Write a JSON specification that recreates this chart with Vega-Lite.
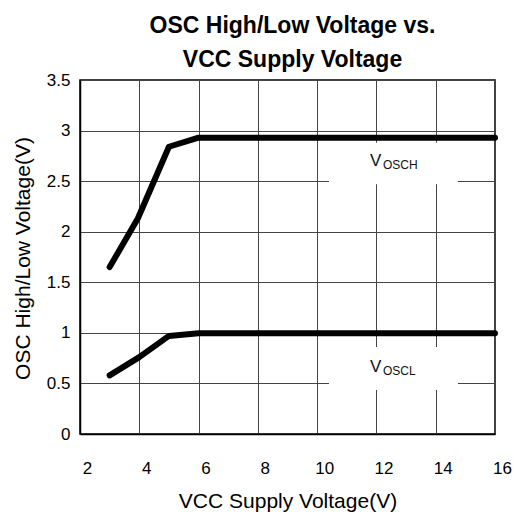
{
  "$schema": "https://vega.github.io/schema/vega-lite/v6.json",
  "autosize": "none",
  "width": 415,
  "height": 354,
  "padding": {"left": 80, "top": 80, "right": 19, "bottom": 78},
  "background": "white",
  "config": {
    "font": "Liberation Sans",
    "view": {"stroke": "black", "strokeWidth": 1.5},
    "axis": {"labelFont": "Liberation Sans", "titleFont": "Liberation Sans"}
  },
  "title": {
    "text": ["OSC High/Low Voltage vs.", "VCC Supply Voltage"],
    "font": "Liberation Sans",
    "fontSize": 23,
    "fontWeight": "bold",
    "color": "black",
    "lineHeight": 34,
    "anchor": "middle",
    "frame": "group",
    "dx": 5,
    "offset": -1
  },
  "datasets": {
    "curves": [
      {"series": "VOSCH", "x": 3.0, "y": 1.65},
      {"series": "VOSCH", "x": 3.95, "y": 2.13},
      {"series": "VOSCH", "x": 5.0, "y": 2.84},
      {"series": "VOSCH", "x": 6.0, "y": 2.93},
      {"series": "VOSCH", "x": 16.0, "y": 2.93},
      {"series": "VOSCL", "x": 3.0, "y": 0.58},
      {"series": "VOSCL", "x": 4.0, "y": 0.76},
      {"series": "VOSCL", "x": 5.0, "y": 0.97},
      {"series": "VOSCL", "x": 6.0, "y": 0.995},
      {"series": "VOSCL", "x": 16.0, "y": 0.995}
    ],
    "boxes": [
      {"series": "VOSCH", "x": 10.4, "x2": 14.75, "y": 2.47, "y2": 2.88},
      {"series": "VOSCL", "x": 10.4, "x2": 14.75, "y": 0.435, "y2": 0.86}
    ],
    "labels": [
      {"series": "VOSCH", "x": 11.78, "y": 2.65, "main": "V", "sub": "OSCH"},
      {"series": "VOSCL", "x": 11.78, "y": 0.616, "main": "V", "sub": "OSCL"}
    ]
  },
  "encoding": {
    "x": {
      "field": "x",
      "type": "quantitative",
      "scale": {"domain": [2, 16], "nice": false, "zero": false},
      "axis": {
        "title": "VCC Supply Voltage(V)",
        "values": [2, 4, 6, 8, 10, 12, 14, 16],
        "format": "~g",
        "grid": true,
        "gridColor": "#444444",
        "gridWidth": 1,
        "gridOpacity": 1,
        "domainColor": "black",
        "domainWidth": 1.5,
        "ticks": false,
        "labelFontSize": 17,
        "labelColor": "black",
        "labelPadding": 26,
        "labelOffset": 7,
        "labelFlush": false,
        "titleFontSize": 21,
        "titleFontWeight": "normal",
        "titleColor": "black",
        "titleBaseline": "alphabetic",
        "titleY": 73
      }
    },
    "y": {
      "field": "y",
      "type": "quantitative",
      "scale": {"domain": [0, 3.5], "nice": false, "zero": false},
      "axis": {
        "title": "OSC High/Low Voltage(V)",
        "values": [0, 0.5, 1, 1.5, 2, 2.5, 3, 3.5],
        "format": "~g",
        "grid": true,
        "gridColor": "#444444",
        "gridWidth": 1,
        "gridOpacity": 1,
        "domainColor": "black",
        "domainWidth": 1.5,
        "ticks": false,
        "labelFontSize": 17,
        "labelColor": "black",
        "labelPadding": 10,
        "labelFlush": false,
        "titleFontSize": 21,
        "titleFontWeight": "normal",
        "titleColor": "black",
        "titleAngle": -90,
        "titleBaseline": "alphabetic",
        "titleX": -51,
        "titleY": 178
      }
    }
  },
  "layer": [
    {
      "data": {"name": "boxes"},
      "mark": {"type": "rect", "fill": "white", "stroke": null},
      "encoding": {
        "x2": {"field": "x2"},
        "y2": {"field": "y2"}
      }
    },
    {
      "data": {"name": "curves"},
      "mark": {"type": "line", "stroke": "black", "strokeWidth": 6, "strokeCap": "round", "strokeJoin": "round"},
      "encoding": {
        "detail": {"field": "series", "type": "nominal"}
      }
    },
    {
      "data": {"name": "labels"},
      "mark": {"type": "text", "align": "left", "baseline": "alphabetic", "fontSize": 17, "font": "Liberation Sans", "color": "#111111"},
      "encoding": {"text": {"field": "main"}}
    },
    {
      "data": {"name": "labels"},
      "mark": {"type": "text", "align": "left", "baseline": "alphabetic", "fontSize": 12, "font": "Liberation Sans", "color": "#111111", "dx": 13, "dy": 3},
      "encoding": {"text": {"field": "sub"}}
    }
  ]
}
